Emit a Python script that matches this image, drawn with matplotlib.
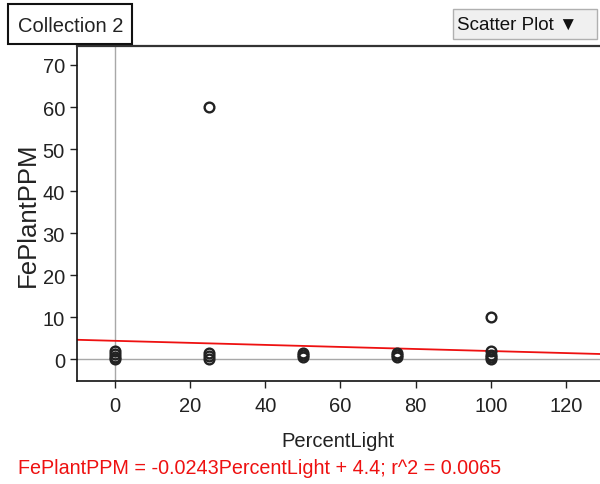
import matplotlib.pyplot as plt
from matplotlib.patches import Rectangle

plt.rcParams['font.family'] = ['Liberation Sans', 'DejaVu Sans']

# Measured samples: percent of full light vs iron content in the plant (ppm)
percent_light = [0, 0, 0, 0,
                 25, 25, 25, 25,
                 50, 50, 50,
                 75, 75, 75,
                 100, 100, 100, 100, 100]
fe_plant_ppm = [0, 0.5, 1.2, 2,
                60, 0, 0.8, 1.5,
                0.5, 1, 1.5,
                0.5, 1, 1.5,
                10, 2, 1, 0.5, 0]

# least squares fit reported below the plot
slope = -0.0243
intercept = 4.4
r_squared = 0.0065

xticks = [0, 20, 40, 60, 80, 100, 120]
yticks = [0, 10, 20, 30, 40, 50, 60, 70]
xlim = (-10.1, 129)
ylim = (-5.2, 74.5)

fig = plt.figure(figsize=(6, 4.85), dpi=100)
ax = fig.add_axes([0.128, 0.212, 0.872, 0.691])

ax.axvline(0, color='#a8a8a8', lw=1, zorder=1)
ax.axhline(0, color='#a8a8a8', lw=1, zorder=1)

ax.plot(percent_light, fe_plant_ppm, 'o', ms=7, mfc='none',
        mec='#222222', mew=1.7, zorder=3)

fit_x = list(xlim)
fit_y = [slope * v + intercept for v in fit_x]
ax.plot(fit_x, fit_y, color='#ee1111', lw=1.3, zorder=2)

ax.set_xlim(*xlim)
ax.set_ylim(*ylim)
ax.set_xticks(xticks)
ax.set_yticks(yticks)
ax.tick_params(labelsize=14.5, length=5, width=1, colors='#222222')
ax.tick_params(axis='x', pad=6)
ax.spines['right'].set_visible(False)
ax.spines['top'].set_color('#333333')
ax.spines['top'].set_linewidth(1.6)
for side in ('left', 'bottom'):
    ax.spines[side].set_color('#111111')
    ax.spines[side].set_linewidth(1.2)

ax.set_xlabel('PercentLight', fontsize=14.5, color='#222222', labelpad=11)
ax.set_ylabel('FePlantPPM', fontsize=18.5, color='#222222', labelpad=2)

fig.text(0.03, 0.022,
         f'FePlantPPM = {slope}PercentLight + {intercept}; r^2 = {r_squared}',
         fontsize=14.2, color='#ee1111', ha='left', va='baseline')

# collection tab in the top left corner
fig.patches.append(Rectangle((0.013, 0.907), 0.207, 0.083, transform=fig.transFigure,
                             fill=True, facecolor='white', edgecolor='#111111', lw=1.5))
fig.text(0.117, 0.945, 'Collection 2', fontsize=14.5, ha='center', va='center', color='#222222')

# plot type selector
fig.patches.append(Rectangle((0.755, 0.918), 0.24, 0.062, transform=fig.transFigure,
                             fill=True, facecolor='#f0f0f0', edgecolor='#b0b0b0', lw=1))
fig.text(0.762, 0.947, 'Scatter Plot \u25bc', fontsize=13.5, ha='left', va='center',
         color='#111111')

fig.savefig('out.png', dpi=100)
